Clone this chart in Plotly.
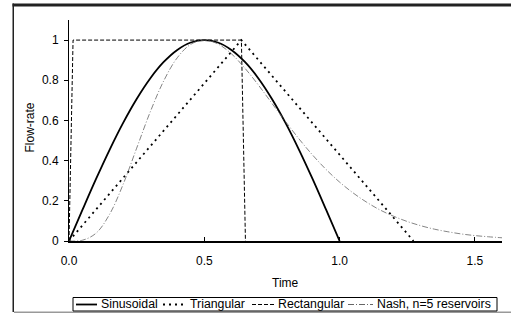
import plotly.graph_objects as go

# Sinusoidal hydrograph
t_sin = [0.0, 0.05, 0.1, 0.15, 0.2, 0.25, 0.3, 0.35, 0.4, 0.45, 0.5,
         0.55, 0.6, 0.65, 0.7, 0.75, 0.8, 0.85, 0.9, 0.95, 1.0]
q_sin = [0.0, 0.156, 0.309, 0.454, 0.588, 0.707, 0.809, 0.891, 0.951, 0.988, 1.0,
         0.988, 0.951, 0.891, 0.809, 0.707, 0.588, 0.454, 0.309, 0.156, 0.0]

# Triangular hydrograph
t_tri = [0.0, 0.637, 1.273]
q_tri = [0.0, 1.0, 0.0]

# Rectangular hydrograph
t_rect = [0.0, 0.015, 0.637, 0.652]
q_rect = [0.0, 1.0, 1.0, 0.0]

# Nash cascade, n=5 reservoirs
t_nash = [0.0, 0.05, 0.1, 0.15, 0.2, 0.25, 0.3, 0.35, 0.4, 0.45, 0.5,
          0.55, 0.6, 0.65, 0.7, 0.75, 0.8, 0.85, 0.9, 0.95, 1.0,
          1.05, 1.1, 1.15, 1.2, 1.25, 1.3, 1.35, 1.4, 1.45, 1.5, 1.55, 1.6]
q_nash = [0.0, 0.004, 0.039, 0.133, 0.282, 0.462, 0.642, 0.797, 0.912, 0.979, 1.0,
          0.981, 0.932, 0.860, 0.776, 0.685, 0.595, 0.508, 0.428, 0.356, 0.293,
          0.239, 0.193, 0.154, 0.123, 0.097, 0.076, 0.059, 0.046, 0.035, 0.027, 0.021, 0.016]

series_names = ["Sinusoidal", "Triangular", "Rectangular", "Nash, n=5 reservoirs"]

x_ticks = [0.0, 0.5, 1.0, 1.5]
x_tick_labels = ["0.0", "0.5", "1.0", "1.5"]
y_ticks = [0, 0.2, 0.4, 0.6, 0.8, 1.0]
y_tick_labels = ["0", "0.2", "0.4", "0.6", "0.8", "1"]

FONT = "Liberation Sans, Arial, sans-serif"

styles = [
    dict(color="black", width=1.8, dash="solid"),
    dict(color="black", width=1.8, dash="2px,4px"),
    dict(color="black", width=1, dash="4px,2px"),
    dict(color="#666666", width=0.8, dash="6px,2px,1px,2px"),
]

fig = go.Figure()
fig.add_trace(go.Scatter(x=t_sin, y=q_sin, mode="lines", name=series_names[0],
                         line=dict(**styles[0], shape="spline")))
fig.add_trace(go.Scatter(x=t_tri, y=q_tri, mode="lines", name=series_names[1],
                         line=styles[1]))
fig.add_trace(go.Scatter(x=t_rect, y=q_rect, mode="lines", name=series_names[2],
                         line=styles[2]))
fig.add_trace(go.Scatter(x=t_nash, y=q_nash, mode="lines", name=series_names[3],
                         line=dict(**styles[3], shape="spline")))

L, R, T, B = 69, 9, 20, 75
W, H = 511, 316
pw, ph = W - L - R, H - T - B

def px_x(p):
    return (p - L) / pw

def px_y(p):
    return (H - B - p) / ph

shapes = []
annotations = []

# outer frame: dark top band and left edge, grey bottom edge
shapes.append(dict(type="rect", xref="paper", yref="paper",
                   x0=px_x(12.5), x1=px_x(W), y0=px_y(6.5), y1=px_y(3.5),
                   line=dict(width=0), fillcolor="#222222"))
shapes.append(dict(type="rect", xref="paper", yref="paper",
                   x0=px_x(12.5), x1=px_x(14), y0=px_y(312), y1=px_y(3.5),
                   line=dict(width=0), fillcolor="#222222"))
shapes.append(dict(type="rect", xref="paper", yref="paper",
                   x0=px_x(14), x1=px_x(W), y0=px_y(313), y1=px_y(311.5),
                   line=dict(width=0), fillcolor="#999999"))

# legend box
shapes.append(dict(type="rect", xref="paper", yref="paper",
                   x0=px_x(73), x1=px_x(497), y0=px_y(311), y1=px_y(297.5),
                   line=dict(color="black", width=1), fillcolor="white"))
leg_y = 304.5
leg_items = [(76, 97, 99.5), (163, 186, 188.5), (252, 274, 276.5), (348, 373, 375.5)]
for (xa, xb, xt), name, st in zip(leg_items, series_names, styles):
    shapes.append(dict(type="line", xref="paper", yref="paper",
                       x0=px_x(xa), x1=px_x(xb), y0=px_y(leg_y), y1=px_y(leg_y),
                       line=dict(color=st["color"], width=max(st["width"], 1),
                                 dash=st["dash"])))
    annotations.append(dict(xref="paper", yref="paper", x=px_x(xt), y=px_y(leg_y),
                            xanchor="left", yanchor="middle", showarrow=False,
                            borderpad=0, text=name,
                            font=dict(size=12.3, family=FONT, color="black")))

# axis titles
annotations.append(dict(xref="paper", yref="paper", x=px_x(285.5), y=px_y(282.5),
                        xanchor="center", yanchor="middle", showarrow=False,
                        text="Time", font=dict(size=12, family=FONT)))
annotations.append(dict(xref="paper", yref="paper", x=px_x(29.5), y=px_y(128),
                        xanchor="center", yanchor="middle", showarrow=False,
                        textangle=-90, text="Flow-rate", font=dict(size=12, family=FONT)))

fig.update_layout(
    template="none",
    width=W, height=H,
    margin=dict(l=L, r=R, t=T, b=B, pad=0),
    paper_bgcolor="white", plot_bgcolor="white",
    font=dict(family=FONT, size=12, color="black"),
    showlegend=False,
    shapes=shapes,
    annotations=annotations,
    xaxis=dict(range=[0, 1.6], tickvals=x_ticks, ticktext=x_tick_labels,
               showline=True, linecolor="black", linewidth=1.5,
               ticks="inside", ticklen=4, tickcolor="black", tickwidth=1,
               ticklabelstandoff=8,
               showgrid=False, zeroline=False, automargin=False),
    yaxis=dict(range=[0, 1.1], tickvals=y_ticks, ticktext=y_tick_labels,
               showline=True, linecolor="black", linewidth=1,
               ticks="outside", ticklen=4, tickcolor="black", tickwidth=1,
               ticklabelstandoff=3,
               showgrid=False, zeroline=False, automargin=False),
)

fig.write_html("out.html", config={"displayModeBar": False},
               post_script="document.body.style.margin='0px';document.body.style.overflow='hidden';")
